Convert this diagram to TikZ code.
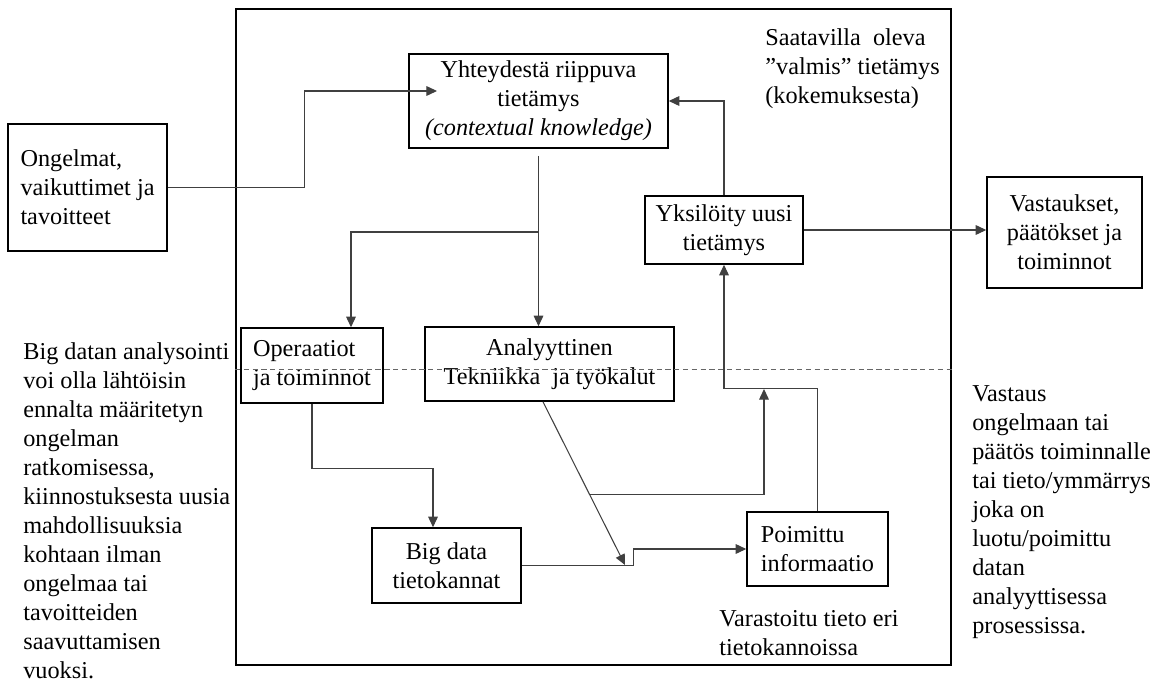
\documentclass[tikz,border=0pt]{standalone}
\usepackage{fontspec}
\setmainfont{Liberation Serif}
\usetikzlibrary{positioning,arrows.meta,calc}

\begin{document}
\begin{tikzpicture}[x=0.02cm, y=-0.02cm]
  % 定义样式
  \tikzset{box/.style = {draw, line width=0.9pt, inner sep=2pt, font=\fontsize{13.8}{16.5}\selectfont}}
  \tikzset{link/.style = {draw, line width=0.6pt, black!75, -{Triangle[length=6pt,width=5.5pt]}}}
  \tikzset{note/.style = {align=left, inner sep=0pt, anchor=north west, font=\fontsize{13.8}{16.5}\selectfont}}
  \tikzset{divider/.style = {draw, line width=0.5pt, black!60, dash pattern=on 3pt off 2pt}}

  \useasboundingbox (0,0) rectangle (1155,682);

  % 外框
  \node[draw, line width=1.3pt, minimum width=14.3cm, minimum height=13.12cm] (stage) at (593.5,337) {};

  % 定义框
  \node[box, align=left, minimum width=3.18cm, minimum height=2.54cm] (prob) at (87.5,187.5) {Ongelmat,\\vaikuttimet ja\\tavoitteet};
  \node[box, align=center, minimum width=5.18cm, minimum height=1.88cm] (ctx) at (538.5,101) {Yhteydestä riippuva\\tietämys\\\textit{(contextual knowledge)}};
  \node[box, align=center, minimum width=3.16cm, minimum height=1.36cm] (new) at (724,230) {Yksilöity uusi\\tietämys};
  \node[box, align=center, minimum width=3.1cm, minimum height=2.22cm] (out) at (1064.5,232.5) {Vastaukset,\\päätökset ja\\toiminnot};
  \node[box, align=left, minimum width=2.84cm, minimum height=1.5cm] (ops) at (312,365.5) {Operaatiot\\ja toiminnot};
  \node[box, align=center, minimum width=4.98cm, minimum height=1.48cm] (ana) at (549.5,364) {Analyyttinen\\Tekniikka\ \ ja työkalut};
  \node[box, align=center, minimum width=2.98cm, minimum height=1.5cm] (db) at (446.5,565.5) {Big data\\tietokannat};
  \node[box, align=left, minimum width=2.82cm, minimum height=1.48cm] (info) at (817.5,549) {Poimittu\\informaatio};

  % 定义点
  \coordinate (ctxin) at (437,91);
  \coordinate (fork) at (ctx.south |- 0,232);
  \coordinate (anaout) at ([xshift=-0.13cm]ana.south);
  \coordinate (meet) at (625,565);
  \coordinate (join) at (764,389);

  % 定义边
  \draw[link] (prob.east) -- ++(137,0) |- (ctxin);
  \draw[link] (new.north) |- (ctx.east);
  \draw[link, shorten <=1.4mm] (ctx.south) -- (ctx.south |- ana.north);
  \draw[link] (fork) -| ([xshift=0.78cm]ops.north);
  \draw[link] (ops.south) -- ++(0,65) -| ([xshift=-0.27cm]db.north);
  \draw[link] (anaout) -- (meet);
  \draw[link] ($(anaout)!0.567!(meet)$) -| (join);
  \draw[link] (info.north) -- ++(0,-123) -| (new.south);
  \draw[link] (db.east) -- ++(112,0) |- (info.west);
  \draw[link] (new.east) -- (new.east -| out.west);

  \draw[divider] (stage.west |- 0,369) -- (stage.east |- 0,369);

  % 文字
  \node[note] (ready) at (765,28) {Saatavilla\ \ oleva\\”valmis”\ tietämys\\(kokemuksesta)};
  \node[note] (stored) at (719,610) {Varastoitu tieto eri\\tietokannoissa};
  \node[note] (origin) at (23,342) {Big datan analysointi\\voi olla lähtöisin\\ennalta määritetyn\\ongelman\\ratkomisessa,\\kiinnostuksesta uusia\\mahdollisuuksia\\kohtaan ilman\\ongelmaa tai\\tavoitteiden\\saavuttamisen\\vuoksi.};
  \node[note] (answer) at (972,385) {Vastaus\\ongelmaan tai\\päätös toiminnalle\\tai tieto/ymmärrys\\joka on\\luotu/poimittu\\datan\\analyyttisessa\\prosessissa.};
\end{tikzpicture}
\end{document}
